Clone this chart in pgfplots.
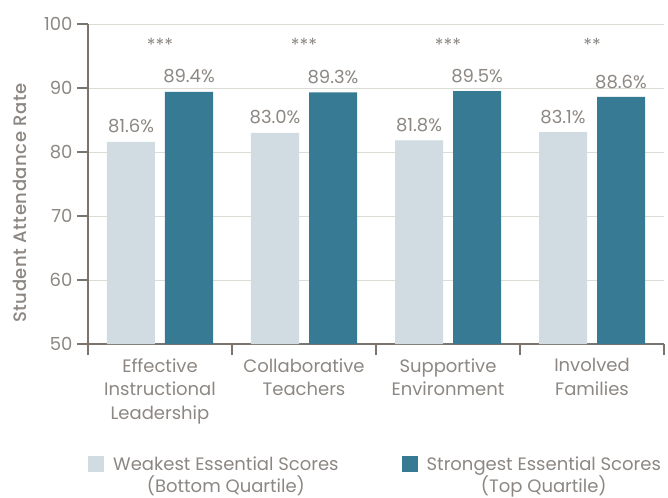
\documentclass[border=0pt]{standalone}
\usepackage{fontspec}
\setmainfont{Poppins}[BoldFont={* Medium}]
\usepackage{pgfplots}
\pgfplotsset{compat=1.18}
\definecolor{lightbar}{HTML}{D0DCE2}
\definecolor{darkbar}{HTML}{367B93}
\definecolor{txt}{HTML}{8C8782}
\definecolor{axl}{HTML}{7A736E}
\definecolor{grd}{HTML}{DCDBD4}
\begin{document}
\begin{tikzpicture}[font=\fontsize{18bp}{23.5bp}\selectfont]
\useasboundingbox (-88bp,-154bp) rectangle (580bp,344bp);
\begin{axis}[
  scale only axis, width=576bp, height=320bp,
  at={(0,0)}, anchor=south west,
  ybar, bar width=48bp,
  xmin=-0.5, xmax=3.5, ymin=50, ymax=100,
  axis lines=left,
  axis line style={axl, line width=1.2bp, -},
  tick align=outside,
  major tick length=11bp,
  tick style={axl, line width=1.2bp},
  ytick={50,60,...,100},
  yticklabel style={text=txt, font=\fontsize{18bp}{23.5bp}\selectfont, /pgf/number format/assume math mode=true, xshift=-1bp},
  xtick={-0.5,0.5,1.5,2.5,3.5},
  xticklabels={},
  extra x ticks={0,1,2,3},
  extra x tick labels={{Effective\\Instructional\\Leadership},{Collaborative\\Teachers},{Supportive\\Environment},{Involved\\Families}},
  extra x tick style={major tick length=0pt, grid=none, tick label style={align=center, text=txt, font=\fontsize{18bp}{23.5bp}\selectfont, yshift=-11bp}},
  ymajorgrids, grid style={grd, line width=1bp},
  ylabel={\bfseries\addfontfeature{LetterSpace=3}Student Attendance Rate},
  ylabel style={text=txt, font=\fontsize{18bp}{23.5bp}\selectfont, at={(axis description cs:-0.118,0.44)}, anchor=center},
  nodes near coords={\pgfmathprintnumber[fixed,zerofill,precision=1,assume math mode=true]{\pgfplotspointmeta}\%},
  nodes near coords style={text=txt, font=\fontsize{18bp}{23.5bp}\selectfont, yshift=5bp},
  legend columns=2,
  legend style={at={(axis description cs:0,-0.35)}, anchor=north west, draw=none, fill=none, inner sep=0pt,
    font=\fontsize{18bp}{22bp}\selectfont,
    nodes={inner sep=0pt, text=txt, align=center},
    /tikz/every odd column/.append style={column sep=9bp},
    /tikz/every even column/.append style={column sep=63bp}},
  legend image code/.code={\fill[#1] (0bp,3.5bp) rectangle (16bp,19.5bp);},
]
\addplot[fill=lightbar, draw=none, bar shift=-29bp] coordinates {(0,81.6) (1,83.0) (2,81.8) (3,83.1)};
\addplot[fill=darkbar, draw=none, bar shift=29bp] coordinates {(0,89.4) (1,89.3) (2,89.5) (3,88.6)};
\legend{{Weakest Essential Scores\\(Bottom Quartile)},{Strongest Essential Scores\\(Top Quartile)}}
\node[text=txt] at (axis cs:0,96.8) {***};
\node[text=txt] at (axis cs:1,96.8) {***};
\node[text=txt] at (axis cs:2,96.8) {***};
\node[text=txt] at (axis cs:3,96.8) {**};
\end{axis}
\end{tikzpicture}
\end{document}
